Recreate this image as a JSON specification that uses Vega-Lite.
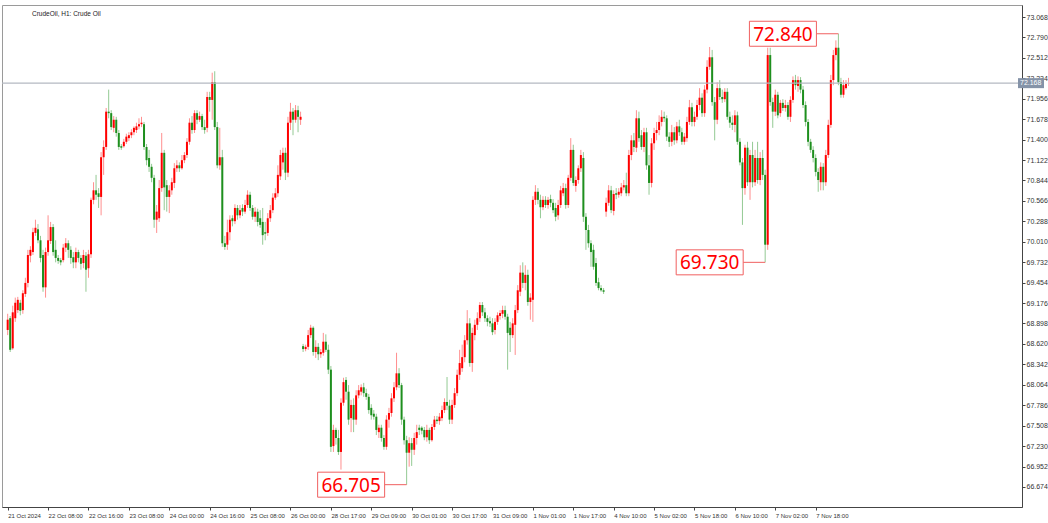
{
"$schema": "https://vega.github.io/schema/vega-lite/v6.json",
"width": 1020, "height": 502,
"autosize": {"type": "none"},
"padding": {"left": 2, "top": 5, "right": 26, "bottom": 16},
"background": "white",
"config": {"view": {"stroke": "#9a9a9a", "strokeWidth": 1}, "font": "Liberation Sans",
 "axisY": {"orient": "right", "format": ".3f", "title": null, "grid": false, "labelFontSize": 7, "labelFont": "Liberation Sans", "labelColor": "#333", "tickSize": 3, "tickColor": "#444", "domainColor": "#444", "labelPadding": 1, "labelOverlap": false, "labelBound": false, "labelSeparation": 0},
 "axisX": {"labelOverlap": false}},
"title": {"text": "CrudeOil, H1:  Crude Oil", "anchor": "start", "frame": "group", "offset": -12, "dx": 30, "fontSize": 6.5, "fontWeight": "normal", "font": "Liberation Sans", "color": "#222"},
"datasets": {
"candles": [
{"i":0,"o":68.81,"h":69.03,"l":68.74,"c":68.95},{"i":1,"o":68.97,"h":69.00,"l":68.51,"c":68.54},{"i":2,"o":68.56,"h":69.14,"l":68.54,"c":69.05},{"i":3,"o":68.97,"h":69.25,"l":68.92,"c":69.18},{"i":4,"o":69.08,"h":69.26,"l":69.04,"c":69.22},{"i":5,"o":69.18,"h":69.22,"l":69.01,"c":69.07},{"i":6,"o":69.08,"h":69.35,"l":69.03,"c":69.31},{"i":7,"o":69.30,"h":69.52,"l":69.26,"c":69.45},{"i":8,"o":69.45,"h":69.90,"l":69.39,"c":69.83},{"i":9,"o":69.82,"h":69.95,"l":69.73,"c":69.90},
{"i":10,"o":69.87,"h":70.20,"l":69.83,"c":70.14},{"i":11,"o":70.13,"h":70.31,"l":70.09,"c":70.20},{"i":12,"o":70.18,"h":70.25,"l":69.99,"c":70.03},{"i":13,"o":70.03,"h":70.09,"l":69.73,"c":69.79},{"i":14,"o":69.83,"h":69.90,"l":69.33,"c":69.39},{"i":15,"o":69.39,"h":69.93,"l":69.25,"c":69.87},{"i":16,"o":69.87,"h":70.37,"l":69.82,"c":70.03},{"i":17,"o":70.02,"h":70.28,"l":69.98,"c":70.21},{"i":18,"o":70.21,"h":70.25,"l":69.82,"c":69.87},{"i":19,"o":69.90,"h":70.03,"l":69.73,"c":69.79},
{"i":20,"o":69.79,"h":69.83,"l":69.71,"c":69.75},{"i":21,"o":69.76,"h":69.79,"l":69.69,"c":69.73},{"i":22,"o":69.76,"h":69.98,"l":69.73,"c":69.93},{"i":23,"o":69.93,"h":70.06,"l":69.87,"c":69.99},{"i":24,"o":69.99,"h":70.03,"l":69.79,"c":69.90},{"i":25,"o":69.90,"h":69.95,"l":69.71,"c":69.79},{"i":26,"o":69.80,"h":69.87,"l":69.65,"c":69.73},{"i":27,"o":69.73,"h":69.93,"l":69.65,"c":69.87},{"i":28,"o":69.87,"h":69.90,"l":69.73,"c":69.79},{"i":29,"o":69.79,"h":69.83,"l":69.63,"c":69.71},
{"i":30,"o":69.72,"h":69.90,"l":69.65,"c":69.83},{"i":31,"o":69.82,"h":69.87,"l":69.33,"c":69.63},{"i":32,"o":69.65,"h":69.90,"l":69.52,"c":69.84},{"i":33,"o":69.84,"h":70.61,"l":69.79,"c":70.58},{"i":34,"o":70.58,"h":70.82,"l":70.52,"c":70.71},{"i":35,"o":70.71,"h":70.92,"l":70.58,"c":70.65},{"i":36,"o":70.67,"h":70.74,"l":70.47,"c":70.62},{"i":37,"o":70.62,"h":71.23,"l":70.37,"c":71.16},{"i":38,"o":71.16,"h":71.39,"l":70.92,"c":71.30},{"i":39,"o":71.30,"h":71.83,"l":71.26,"c":71.78},
{"i":40,"o":71.78,"h":72.08,"l":71.69,"c":71.76},{"i":41,"o":71.76,"h":71.80,"l":71.53,"c":71.57},{"i":42,"o":71.56,"h":71.72,"l":71.50,"c":71.67},{"i":43,"o":71.67,"h":71.71,"l":71.44,"c":71.49},{"i":44,"o":71.49,"h":71.53,"l":71.26,"c":71.30},{"i":45,"o":71.31,"h":71.34,"l":71.26,"c":71.29},{"i":46,"o":71.31,"h":71.41,"l":71.29,"c":71.37},{"i":47,"o":71.37,"h":71.48,"l":71.34,"c":71.44},{"i":48,"o":71.42,"h":71.50,"l":71.38,"c":71.46},{"i":49,"o":71.46,"h":71.54,"l":71.42,"c":71.50},
{"i":50,"o":71.50,"h":71.58,"l":71.46,"c":71.56},{"i":51,"o":71.53,"h":71.63,"l":71.49,"c":71.58},{"i":52,"o":71.58,"h":71.69,"l":71.54,"c":71.61},{"i":53,"o":71.61,"h":71.71,"l":71.57,"c":71.63},{"i":54,"o":71.61,"h":71.64,"l":71.26,"c":71.30},{"i":55,"o":71.30,"h":71.34,"l":71.05,"c":71.12},{"i":56,"o":71.15,"h":71.26,"l":70.96,"c":71.03},{"i":57,"o":71.03,"h":71.07,"l":70.82,"c":70.88},{"i":58,"o":70.88,"h":70.92,"l":70.20,"c":70.31},{"i":59,"o":70.31,"h":70.51,"l":70.13,"c":70.42},
{"i":60,"o":70.33,"h":70.85,"l":70.28,"c":70.74},{"i":61,"o":70.74,"h":71.49,"l":70.69,"c":71.22},{"i":62,"o":71.22,"h":71.26,"l":70.44,"c":70.75},{"i":63,"o":70.78,"h":70.85,"l":70.42,"c":70.62},{"i":64,"o":70.62,"h":70.78,"l":70.40,"c":70.71},{"i":65,"o":70.71,"h":70.88,"l":70.65,"c":70.82},{"i":66,"o":70.81,"h":71.08,"l":70.74,"c":71.01},{"i":67,"o":71.01,"h":71.12,"l":70.96,"c":71.05},{"i":68,"o":71.05,"h":71.09,"l":70.96,"c":71.01},{"i":69,"o":71.01,"h":71.19,"l":70.99,"c":71.12},
{"i":70,"o":71.12,"h":71.23,"l":71.08,"c":71.19},{"i":71,"o":71.19,"h":71.42,"l":71.15,"c":71.37},{"i":72,"o":71.37,"h":71.69,"l":71.33,"c":71.63},{"i":73,"o":71.63,"h":71.72,"l":71.48,"c":71.53},{"i":74,"o":71.53,"h":71.80,"l":71.49,"c":71.76},{"i":75,"o":71.76,"h":71.80,"l":71.61,"c":71.67},{"i":76,"o":71.67,"h":71.78,"l":71.64,"c":71.72},{"i":77,"o":71.72,"h":71.75,"l":71.53,"c":71.57},{"i":78,"o":71.57,"h":71.67,"l":71.48,"c":71.53},{"i":79,"o":71.56,"h":72.05,"l":71.50,"c":71.98},
{"i":80,"o":71.98,"h":72.05,"l":71.78,"c":71.94},{"i":81,"o":71.94,"h":72.31,"l":71.67,"c":72.18},{"i":82,"o":72.18,"h":72.33,"l":71.53,"c":71.57},{"i":83,"o":71.57,"h":71.64,"l":71.01,"c":71.05},{"i":84,"o":71.05,"h":71.56,"l":70.99,"c":71.16},{"i":85,"o":71.16,"h":71.26,"l":69.94,"c":69.99},{"i":86,"o":69.99,"h":70.09,"l":69.90,"c":69.94},{"i":87,"o":69.97,"h":70.31,"l":69.90,"c":70.14},{"i":88,"o":70.14,"h":70.37,"l":70.03,"c":70.31},{"i":89,"o":70.33,"h":70.37,"l":70.22,"c":70.29},
{"i":90,"o":70.29,"h":70.52,"l":70.25,"c":70.47},{"i":91,"o":70.47,"h":70.51,"l":70.31,"c":70.37},{"i":92,"o":70.37,"h":70.51,"l":70.33,"c":70.44},{"i":93,"o":70.47,"h":70.52,"l":70.36,"c":70.42},{"i":94,"o":70.42,"h":70.58,"l":70.39,"c":70.51},{"i":95,"o":70.51,"h":70.71,"l":70.47,"c":70.65},{"i":96,"o":70.65,"h":70.69,"l":70.43,"c":70.47},{"i":97,"o":70.47,"h":70.51,"l":70.31,"c":70.35},{"i":98,"o":70.35,"h":70.48,"l":70.28,"c":70.42},{"i":99,"o":70.42,"h":70.46,"l":70.22,"c":70.28},
{"i":100,"o":70.33,"h":70.44,"l":70.20,"c":70.24},{"i":101,"o":70.28,"h":70.47,"l":69.97,"c":70.10},{"i":102,"o":70.14,"h":70.28,"l":70.03,"c":70.12},{"i":103,"o":70.13,"h":70.40,"l":70.09,"c":70.33},{"i":104,"o":70.33,"h":70.51,"l":70.28,"c":70.44},{"i":105,"o":70.44,"h":70.67,"l":70.40,"c":70.61},{"i":106,"o":70.61,"h":70.74,"l":70.58,"c":70.67},{"i":107,"o":70.67,"h":71.05,"l":70.62,"c":70.92},{"i":108,"o":70.90,"h":71.26,"l":70.85,"c":71.19},{"i":109,"o":71.09,"h":71.29,"l":70.99,"c":71.22},
{"i":110,"o":71.22,"h":71.29,"l":70.85,"c":70.95},{"i":111,"o":70.95,"h":71.71,"l":70.89,"c":71.63},{"i":112,"o":71.63,"h":71.90,"l":71.53,"c":71.78},{"i":113,"o":71.78,"h":71.83,"l":71.46,"c":71.67},{"i":114,"o":71.67,"h":71.87,"l":71.63,"c":71.80},{"i":115,"o":71.80,"h":71.86,"l":71.50,"c":71.71},{"i":116,"o":71.67,"h":71.78,"l":71.60,"c":71.71},{"i":117,"o":68.59,"h":68.62,"l":68.51,"c":68.55},{"i":118,"o":68.55,"h":68.61,"l":68.52,"c":68.58},{"i":119,"o":68.58,"h":68.81,"l":68.54,"c":68.74},
{"i":120,"o":68.74,"h":68.88,"l":68.70,"c":68.84},{"i":121,"o":68.84,"h":68.86,"l":68.46,"c":68.51},{"i":122,"o":68.51,"h":68.67,"l":68.43,"c":68.58},{"i":123,"o":68.58,"h":68.63,"l":68.40,"c":68.48},{"i":124,"o":68.48,"h":68.55,"l":68.43,"c":68.51},{"i":125,"o":68.50,"h":68.77,"l":68.46,"c":68.65},{"i":126,"o":68.65,"h":68.75,"l":68.51,"c":68.54},{"i":127,"o":68.54,"h":68.61,"l":68.21,"c":68.27},{"i":128,"o":68.27,"h":68.32,"l":67.15,"c":67.22},{"i":129,"o":67.23,"h":67.52,"l":67.15,"c":67.45},
{"i":130,"o":67.45,"h":67.48,"l":67.25,"c":67.34},{"i":131,"o":67.34,"h":67.45,"l":67.11,"c":67.15},{"i":132,"o":67.15,"h":67.88,"l":66.91,"c":67.82},{"i":133,"o":67.82,"h":68.16,"l":67.78,"c":68.10},{"i":134,"o":68.13,"h":68.17,"l":67.86,"c":67.97},{"i":135,"o":67.97,"h":68.06,"l":67.52,"c":67.59},{"i":136,"o":67.61,"h":67.86,"l":67.42,"c":67.79},{"i":137,"o":67.79,"h":67.88,"l":67.42,"c":67.59},{"i":138,"o":67.59,"h":67.99,"l":67.52,"c":67.92},{"i":139,"o":67.92,"h":68.06,"l":67.88,"c":67.99},
{"i":140,"o":67.97,"h":68.07,"l":67.92,"c":68.03},{"i":141,"o":68.03,"h":68.09,"l":67.90,"c":67.95},{"i":142,"o":67.95,"h":68.01,"l":67.86,"c":67.90},{"i":143,"o":67.90,"h":67.94,"l":67.67,"c":67.72},{"i":144,"o":67.75,"h":67.80,"l":67.59,"c":67.65},{"i":145,"o":67.67,"h":67.72,"l":67.59,"c":67.63},{"i":146,"o":67.63,"h":67.67,"l":67.38,"c":67.45},{"i":147,"o":67.42,"h":67.52,"l":67.34,"c":67.48},{"i":148,"o":67.48,"h":67.52,"l":67.29,"c":67.34},{"i":149,"o":67.34,"h":67.38,"l":67.18,"c":67.22},
{"i":150,"o":67.22,"h":67.65,"l":67.18,"c":67.59},{"i":151,"o":67.59,"h":67.75,"l":67.48,"c":67.68},{"i":152,"o":67.68,"h":67.95,"l":67.63,"c":67.88},{"i":153,"o":67.88,"h":68.10,"l":67.83,"c":68.03},{"i":154,"o":68.03,"h":68.50,"l":67.99,"c":68.22},{"i":155,"o":68.22,"h":68.29,"l":68.02,"c":68.06},{"i":156,"o":68.06,"h":68.09,"l":67.52,"c":67.59},{"i":157,"o":67.59,"h":67.63,"l":67.25,"c":67.31},{"i":158,"o":67.31,"h":67.37,"l":66.705,"c":67.14},{"i":159,"o":67.14,"h":67.35,"l":66.95,"c":67.27},
{"i":160,"o":67.27,"h":67.34,"l":66.96,"c":67.18},{"i":161,"o":67.18,"h":67.41,"l":67.11,"c":67.34},{"i":162,"o":67.34,"h":67.52,"l":67.25,"c":67.42},{"i":163,"o":67.48,"h":67.52,"l":67.38,"c":67.45},{"i":164,"o":67.48,"h":67.50,"l":67.39,"c":67.44},{"i":165,"o":67.45,"h":67.49,"l":67.31,"c":67.35},{"i":166,"o":67.35,"h":67.52,"l":67.29,"c":67.45},{"i":167,"o":67.45,"h":67.48,"l":67.26,"c":67.31},{"i":168,"o":67.31,"h":67.53,"l":67.29,"c":67.49},{"i":169,"o":67.49,"h":67.64,"l":67.45,"c":67.59},
{"i":170,"o":67.59,"h":67.64,"l":67.53,"c":67.57},{"i":171,"o":67.57,"h":67.68,"l":67.52,"c":67.63},{"i":172,"o":67.61,"h":67.78,"l":67.57,"c":67.72},{"i":173,"o":67.72,"h":67.88,"l":67.68,"c":67.83},{"i":174,"o":67.83,"h":68.17,"l":67.72,"c":67.78},{"i":175,"o":67.78,"h":67.86,"l":67.53,"c":67.59},{"i":176,"o":67.59,"h":67.86,"l":67.53,"c":67.79},{"i":177,"o":67.79,"h":68.02,"l":67.75,"c":67.95},{"i":178,"o":67.95,"h":68.27,"l":67.91,"c":68.20},{"i":179,"o":68.20,"h":68.54,"l":68.13,"c":68.36},
{"i":180,"o":68.29,"h":68.61,"l":68.24,"c":68.44},{"i":181,"o":68.44,"h":68.74,"l":68.37,"c":68.67},{"i":182,"o":68.67,"h":69.08,"l":68.61,"c":68.90},{"i":183,"o":68.90,"h":68.97,"l":68.31,"c":68.36},{"i":184,"o":68.36,"h":68.84,"l":68.24,"c":68.77},{"i":185,"o":68.74,"h":68.95,"l":68.67,"c":68.88},{"i":186,"o":68.88,"h":69.05,"l":68.81,"c":68.97},{"i":187,"o":68.97,"h":69.19,"l":68.92,"c":69.15},{"i":188,"o":69.15,"h":69.19,"l":69.00,"c":69.05},{"i":189,"o":69.05,"h":69.11,"l":68.92,"c":68.97},
{"i":190,"o":68.97,"h":69.01,"l":68.86,"c":68.92},{"i":191,"o":68.93,"h":68.99,"l":68.85,"c":68.90},{"i":192,"o":68.90,"h":68.97,"l":68.74,"c":68.78},{"i":193,"o":68.81,"h":68.97,"l":68.75,"c":68.92},{"i":194,"o":68.92,"h":69.05,"l":68.88,"c":69.01},{"i":195,"o":69.00,"h":69.08,"l":68.95,"c":69.04},{"i":196,"o":69.03,"h":69.14,"l":68.97,"c":69.08},{"i":197,"o":69.08,"h":69.14,"l":68.95,"c":68.99},{"i":198,"o":68.99,"h":69.03,"l":68.27,"c":68.77},{"i":199,"o":68.84,"h":68.92,"l":68.51,"c":68.74},
{"i":200,"o":68.74,"h":68.97,"l":68.70,"c":68.90},{"i":201,"o":68.88,"h":69.15,"l":68.47,"c":69.08},{"i":202,"o":69.08,"h":69.42,"l":69.04,"c":69.35},{"i":203,"o":69.33,"h":69.69,"l":69.27,"c":69.59},{"i":204,"o":69.59,"h":69.73,"l":69.38,"c":69.45},{"i":205,"o":69.45,"h":69.69,"l":69.35,"c":69.56},{"i":206,"o":69.56,"h":69.63,"l":69.14,"c":69.19},{"i":207,"o":69.19,"h":69.31,"l":68.95,"c":69.25},{"i":208,"o":69.22,"h":70.63,"l":68.92,"c":70.58},{"i":209,"o":70.58,"h":70.78,"l":70.51,"c":70.69},
{"i":210,"o":70.69,"h":70.74,"l":70.52,"c":70.58},{"i":211,"o":70.58,"h":70.65,"l":70.33,"c":70.48},{"i":212,"o":70.48,"h":70.63,"l":70.44,"c":70.58},{"i":213,"o":70.58,"h":70.63,"l":70.47,"c":70.51},{"i":214,"o":70.51,"h":70.62,"l":70.46,"c":70.58},{"i":215,"o":70.59,"h":70.65,"l":70.48,"c":70.54},{"i":216,"o":70.54,"h":70.59,"l":70.40,"c":70.44},{"i":217,"o":70.47,"h":70.54,"l":70.29,"c":70.35},{"i":218,"o":70.37,"h":70.58,"l":70.31,"c":70.51},{"i":219,"o":70.51,"h":70.77,"l":70.47,"c":70.71},
{"i":220,"o":70.67,"h":70.81,"l":70.63,"c":70.74},{"i":221,"o":70.74,"h":70.80,"l":70.46,"c":70.51},{"i":222,"o":70.51,"h":70.92,"l":70.47,"c":70.88},{"i":223,"o":70.88,"h":71.42,"l":70.84,"c":71.26},{"i":224,"o":71.26,"h":71.33,"l":70.77,"c":70.81},{"i":225,"o":70.77,"h":70.90,"l":70.69,"c":70.85},{"i":226,"o":70.85,"h":71.05,"l":70.80,"c":71.01},{"i":227,"o":71.01,"h":71.26,"l":70.96,"c":71.19},{"i":228,"o":71.15,"h":71.23,"l":70.28,"c":70.35},{"i":229,"o":70.35,"h":70.40,"l":69.90,"c":70.17},
{"i":230,"o":70.17,"h":70.24,"l":69.93,"c":69.99},{"i":231,"o":69.99,"h":70.03,"l":69.67,"c":69.87},{"i":232,"o":69.90,"h":69.97,"l":69.63,"c":69.67},{"i":233,"o":69.72,"h":69.79,"l":69.41,"c":69.45},{"i":234,"o":69.46,"h":69.52,"l":69.35,"c":69.38},{"i":235,"o":69.38,"h":69.42,"l":69.33,"c":69.35},{"i":236,"o":69.35,"h":69.38,"l":69.30,"c":69.33},{"i":237,"o":70.42,"h":70.61,"l":70.35,"c":70.54},{"i":238,"o":70.54,"h":70.78,"l":70.50,"c":70.71},{"i":239,"o":70.71,"h":70.77,"l":70.40,"c":70.44},
{"i":240,"o":70.43,"h":70.71,"l":70.37,"c":70.66},{"i":241,"o":70.67,"h":70.74,"l":70.59,"c":70.65},{"i":242,"o":70.65,"h":70.74,"l":70.61,"c":70.69},{"i":243,"o":70.67,"h":70.81,"l":70.63,"c":70.75},{"i":244,"o":70.75,"h":70.85,"l":70.71,"c":70.78},{"i":245,"o":70.78,"h":70.95,"l":70.63,"c":70.67},{"i":246,"o":70.67,"h":71.26,"l":70.63,"c":71.19},{"i":247,"o":71.19,"h":71.46,"l":71.12,"c":71.39},{"i":248,"o":71.39,"h":71.49,"l":71.23,"c":71.30},{"i":249,"o":71.29,"h":71.80,"l":71.23,"c":71.69},
{"i":250,"o":71.69,"h":71.78,"l":71.37,"c":71.42},{"i":251,"o":71.46,"h":71.53,"l":71.26,"c":71.30},{"i":252,"o":71.30,"h":71.56,"l":71.23,"c":71.50},{"i":253,"o":71.50,"h":71.56,"l":70.99,"c":71.05},{"i":254,"o":71.05,"h":71.19,"l":70.65,"c":70.81},{"i":255,"o":70.81,"h":71.42,"l":70.75,"c":71.35},{"i":256,"o":71.35,"h":71.56,"l":71.26,"c":71.49},{"i":257,"o":71.49,"h":71.64,"l":71.39,"c":71.53},{"i":258,"o":71.53,"h":71.73,"l":71.46,"c":71.64},{"i":259,"o":71.64,"h":71.80,"l":71.58,"c":71.71},
{"i":260,"o":71.71,"h":71.78,"l":71.64,"c":71.69},{"i":261,"o":71.69,"h":71.73,"l":71.38,"c":71.44},{"i":262,"o":71.44,"h":71.50,"l":71.30,"c":71.37},{"i":263,"o":71.37,"h":71.60,"l":71.31,"c":71.50},{"i":264,"o":71.50,"h":71.57,"l":71.33,"c":71.39},{"i":265,"o":71.39,"h":71.64,"l":71.35,"c":71.58},{"i":266,"o":71.58,"h":71.67,"l":71.45,"c":71.50},{"i":267,"o":71.50,"h":71.56,"l":71.33,"c":71.37},{"i":268,"o":71.37,"h":71.49,"l":71.33,"c":71.44},{"i":269,"o":71.42,"h":71.71,"l":71.37,"c":71.64},
{"i":270,"o":71.64,"h":71.94,"l":71.60,"c":71.84},{"i":271,"o":71.84,"h":71.90,"l":71.58,"c":71.64},{"i":272,"o":71.64,"h":71.78,"l":71.58,"c":71.71},{"i":273,"o":71.71,"h":71.94,"l":71.67,"c":71.87},{"i":274,"o":71.87,"h":72.10,"l":71.80,"c":71.97},{"i":275,"o":71.97,"h":72.03,"l":71.71,"c":71.76},{"i":276,"o":71.76,"h":72.14,"l":71.71,"c":72.08},{"i":277,"o":72.08,"h":72.48,"l":72.03,"c":72.39},{"i":278,"o":72.39,"h":72.66,"l":72.35,"c":72.52},{"i":279,"o":72.52,"h":72.62,"l":71.86,"c":71.91},
{"i":280,"o":71.91,"h":71.98,"l":71.39,"c":71.67},{"i":281,"o":71.67,"h":72.18,"l":71.61,"c":72.10},{"i":282,"o":72.10,"h":72.21,"l":71.94,"c":71.98},{"i":283,"o":71.98,"h":72.08,"l":71.90,"c":71.95},{"i":284,"o":71.95,"h":72.10,"l":71.91,"c":72.05},{"i":285,"o":72.05,"h":72.10,"l":71.67,"c":71.71},{"i":286,"o":71.71,"h":71.78,"l":71.56,"c":71.63},{"i":287,"o":71.63,"h":71.73,"l":71.53,"c":71.60},{"i":288,"o":71.60,"h":71.80,"l":71.50,"c":71.73},{"i":289,"o":71.73,"h":71.78,"l":71.33,"c":71.37},
{"i":290,"o":71.37,"h":71.42,"l":71.05,"c":71.09},{"i":291,"o":71.09,"h":71.15,"l":70.24,"c":70.74},{"i":292,"o":70.74,"h":71.33,"l":70.65,"c":71.29},{"i":293,"o":71.29,"h":71.37,"l":70.77,"c":70.82},{"i":294,"o":70.82,"h":71.26,"l":70.58,"c":71.19},{"i":295,"o":71.19,"h":71.37,"l":70.75,"c":70.82},{"i":296,"o":70.82,"h":71.26,"l":70.77,"c":71.15},{"i":297,"o":71.15,"h":71.37,"l":70.80,"c":70.85},{"i":298,"o":70.85,"h":71.23,"l":70.78,"c":71.15},{"i":299,"o":71.15,"h":71.26,"l":70.85,"c":70.92},
{"i":300,"o":70.92,"h":70.99,"l":69.73,"c":69.97},{"i":301,"o":69.97,"h":72.65,"l":69.90,"c":72.55},{"i":302,"o":72.55,"h":72.65,"l":71.86,"c":71.91},{"i":303,"o":71.91,"h":71.97,"l":71.56,"c":71.78},{"i":304,"o":71.78,"h":72.08,"l":71.72,"c":72.01},{"i":305,"o":72.01,"h":72.05,"l":71.69,"c":71.73},{"i":306,"o":71.76,"h":71.94,"l":71.71,"c":71.90},{"i":307,"o":71.90,"h":71.95,"l":71.79,"c":71.83},{"i":308,"o":71.83,"h":71.94,"l":71.78,"c":71.87},{"i":309,"o":71.87,"h":71.91,"l":71.67,"c":71.71},
{"i":310,"o":71.71,"h":71.99,"l":71.64,"c":71.94},{"i":311,"o":71.94,"h":72.26,"l":71.90,"c":72.21},{"i":312,"o":72.21,"h":72.28,"l":72.08,"c":72.14},{"i":313,"o":72.13,"h":72.26,"l":72.05,"c":72.21},{"i":314,"o":72.21,"h":72.25,"l":72.03,"c":72.08},{"i":315,"o":72.08,"h":72.13,"l":71.83,"c":71.87},{"i":316,"o":71.87,"h":71.92,"l":71.58,"c":71.64},{"i":317,"o":71.64,"h":71.68,"l":71.31,"c":71.37},{"i":318,"o":71.37,"h":71.41,"l":71.22,"c":71.26},{"i":319,"o":71.26,"h":71.31,"l":71.09,"c":71.15},
{"i":320,"o":71.15,"h":71.20,"l":70.90,"c":70.96},{"i":321,"o":70.96,"h":71.01,"l":70.69,"c":70.85},{"i":322,"o":70.82,"h":71.09,"l":70.71,"c":71.03},{"i":323,"o":71.03,"h":71.08,"l":70.71,"c":70.82},{"i":324,"o":70.82,"h":71.26,"l":70.77,"c":71.19},{"i":325,"o":71.19,"h":71.67,"l":71.15,"c":71.60},{"i":326,"o":71.60,"h":72.28,"l":71.56,"c":72.21},{"i":327,"o":72.21,"h":72.62,"l":72.14,"c":72.55},{"i":328,"o":72.55,"h":72.75,"l":72.48,"c":72.65},{"i":329,"o":72.65,"h":72.84,"l":72.14,"c":72.18},
{"i":330,"o":72.18,"h":72.24,"l":71.97,"c":72.01},{"i":331,"o":72.01,"h":72.21,"l":71.97,"c":72.14},{"i":332,"o":72.10,"h":72.21,"l":72.08,"c":72.16},{"i":333,"o":72.16,"h":72.24,"l":72.13,"c":72.17}
],
"notes": [
{"label": "72.840", "bar": 329, "price": 72.84},
{"label": "69.730", "bar": 300, "price": 69.73},
{"label": "66.705", "bar": 158, "price": 66.705}
],
"last": [{"label": "72.168", "price": 72.168}]
},
"layer": [
{
"data": {"name": "candles"},
"mark": {"type": "rule", "strokeWidth": 1, "opacity": 0.5},
"encoding": {
"x": {"field": "i", "type": "quantitative", "scale": {"domain": [-0.27, 399.73], "nice": false, "zero": false},
"axis": {"orient": "bottom", "values": [0,16,32,48,64,80,96,112,128,144,160,176,192,208,224,240,256,272,288,304,320], "labelExpr": "['21 Oct 2024','22 Oct 08:00','22 Oct 16:00','23 Oct 08:00','24 Oct 00:00','24 Oct 16:00','25 Oct 08:00','26 Oct 00:00','28 Oct 17:00','29 Oct 09:00','30 Oct 01:00','30 Oct 17:00','31 Oct 09:00','1 Nov 01:00','1 Nov 17:00','4 Nov 10:00','5 Nov 02:00','5 Nov 18:00','6 Nov 10:00','7 Nov 02:00','7 Nov 18:00'][round(datum.value/16)]", "labelAlign": "left", "labelFontSize": 6, "labelFont": "Liberation Sans", "labelColor": "#333", "labelPadding": 2, "tickSize": 3, "tickColor": "#444", "domainColor": "#444", "labelOverlap": false, "labelFlush": false, "grid": false, "title": null}},
"y": {"field": "l", "type": "quantitative", "scale": {"domain": [66.4013, 73.2313], "nice": false, "zero": false},
"axis": {"values": [73.068, 72.79, 72.512, 72.234, 71.956, 71.678, 71.4, 71.122, 70.844, 70.566, 70.288, 70.01, 69.732, 69.454, 69.176, 68.898, 68.62, 68.342, 68.064, 67.786, 67.508, 67.23, 66.952, 66.674], "tickCount": 24}},
"y2": {"field": "h"},
"color": {"condition": {"test": "datum.c >= datum.o", "value": "#ff2020"}, "value": "#2a962a"}
}
},
{
"data": {"name": "candles"},
"mark": {"type": "bar", "width": 2},
"encoding": {
"x": {"field": "i", "type": "quantitative"},
"y": {"field": "o", "type": "quantitative"},
"y2": {"field": "c"},
"color": {"condition": {"test": "datum.c >= datum.o", "value": "#ff0000"}, "value": "#1e8f1e"}
}
},
{
"data": {"name": "last"},
"mark": {"type": "rule", "color": "#b4b9c2", "strokeWidth": 1.3},
"encoding": {
"y": {"field": "price", "type": "quantitative"}
}
},
{
"data": {"name": "last"},
"mark": {"type": "rect", "fill": "#8593a8", "xOffset": 1, "x2Offset": 27, "yOffset": -5, "y2Offset": 5},
"encoding": {
"x": {"datum": 399.73, "type": "quantitative"},
"x2": {"datum": 399.73},
"y": {"field": "price", "type": "quantitative"},
"y2": {"field": "price"}
}
},
{
"data": {"name": "last"},
"mark": {"type": "text", "align": "left", "baseline": "middle", "dx": 3, "fontSize": 7, "font": "Liberation Sans", "color": "white"},
"encoding": {
"x": {"datum": 399.73, "type": "quantitative"},
"y": {"field": "price", "type": "quantitative"},
"text": {"field": "label"}
}
},
{
"data": {"name": "notes"},
"mark": {"type": "rule", "color": "#f06060", "strokeWidth": 1, "xOffset": -22},
"encoding": {
"x": {"field": "bar", "type": "quantitative"},
"x2": {"field": "bar"},
"y": {"field": "price", "type": "quantitative"}
}
},
{
"data": {"name": "notes"},
"mark": {"type": "rect", "fill": "white", "stroke": "#f06060", "strokeWidth": 1, "xOffset": -89, "x2Offset": -22, "yOffset": -12.5, "y2Offset": 12.5},
"encoding": {
"x": {"field": "bar", "type": "quantitative"},
"x2": {"field": "bar"},
"y": {"field": "price", "type": "quantitative"},
"y2": {"field": "price"}
}
},
{
"data": {"name": "notes"},
"mark": {"type": "text", "align": "center", "baseline": "middle", "dx": -55.5, "dy": 1, "fontSize": 19, "font": "Noto Sans", "color": "#ff0000"},
"encoding": {
"x": {"field": "bar", "type": "quantitative"},
"y": {"field": "price", "type": "quantitative"},
"text": {"field": "label"}
}
}
]
}
